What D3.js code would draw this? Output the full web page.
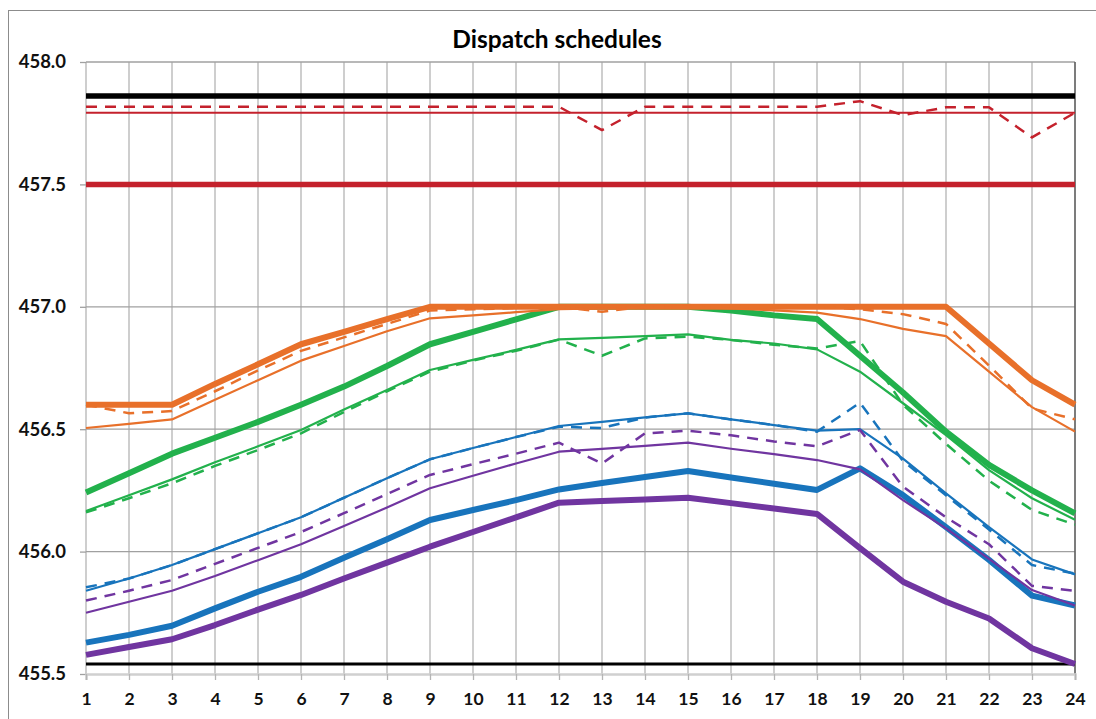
<!DOCTYPE html>
<html>
<head>
<meta charset="utf-8">
<script src="https://d3js.org/d3.v7.min.js"></script>
<style>
  body { margin: 0; background: #fff; }
  svg { display: block; font-family: Lato, "Open Sans", sans-serif; }
</style>
</head>
<body>
<div id="chart"></div>
<script>
// hours on the x axis
var hours = d3.range(1, 25);
var yTicks = [455.5, 456.0, 456.5, 457.0, 457.5, 458.0];

// constant levels
var blackTop = 457.861, blackBottom = 455.541;
var redThick = 457.5, redThin = 457.793;
var redDashed = [457.817,457.817,457.817,457.817,457.817,457.817,457.817,457.817,457.817,457.817,457.817,457.817,
                 457.722,457.817,457.817,457.817,457.817,457.817,457.84,457.783,457.815,457.815,457.692,457.793];

var orangeThick = [456.60,456.60,456.60,456.685,456.765,456.847,456.898,456.95,457.0,457.0,457.0,457.0,
                   457.0,457.0,457.0,457.0,457.0,457.0,457.0,457.0,457.0,456.85,456.70,456.60];
var orangeThin = [456.505,456.522,456.54,456.62,456.70,456.78,456.84,456.90,456.953,456.965,456.978,456.99,
                  456.993,456.997,457.0,456.993,456.985,456.976,456.95,456.91,456.88,456.735,456.59,456.49];
var orangeDashed = [456.60,456.565,456.574,456.655,456.74,456.82,456.875,456.93,456.985,456.99,456.995,457.0,
                    456.98,457.0,457.0,457.0,457.0,457.0,456.99,456.97,456.93,456.76,456.585,456.54];

var greenThick = [456.241,456.32,456.40,456.465,456.53,456.60,456.674,456.758,456.847,456.898,456.949,457.0,
                  457.0,457.0,457.0,456.985,456.965,456.95,456.80,456.65,456.49,456.354,456.25,456.156];
var greenThin = [456.166,456.23,456.295,456.365,456.43,456.497,456.58,456.66,456.742,456.783,456.824,456.867,
                 456.873,456.88,456.887,456.865,456.85,456.826,456.735,456.606,456.476,456.333,456.218,456.13];
var greenDashed = [456.16,456.218,456.279,456.35,456.415,456.483,456.57,456.655,456.735,456.78,456.82,456.866,
                   456.80,456.871,456.878,456.865,456.845,456.83,456.86,456.60,456.44,456.29,456.17,456.11];

var blueThick = [455.628,455.66,455.697,455.768,455.836,455.897,455.975,456.05,456.129,456.17,456.21,456.254,
                 456.28,456.305,456.329,456.303,456.277,456.252,456.34,456.231,456.10,455.966,455.82,455.78];
var blueThin = [455.84,455.89,455.945,456.01,456.075,456.14,456.22,456.30,456.377,456.423,456.468,456.513,
                456.53,456.548,456.565,456.54,456.517,456.494,456.50,456.38,456.238,456.10,455.968,455.907];
var blueDashed = [455.854,455.89,455.945,456.01,456.075,456.14,456.22,456.30,456.377,456.423,456.468,456.51,
                  456.505,456.548,456.565,456.54,456.517,456.49,456.608,456.37,456.23,456.09,455.945,455.91];

var purpleThick = [455.578,455.61,455.642,455.70,455.763,455.823,455.89,455.955,456.02,456.08,456.14,456.20,
                   456.207,456.213,456.22,456.198,456.176,456.154,456.014,455.877,455.795,455.727,455.605,455.541];
var purpleThin = [455.75,455.795,455.84,455.90,455.965,456.03,456.105,456.18,456.259,456.31,456.36,456.408,
                  456.42,456.432,456.445,456.42,456.398,456.374,456.336,456.21,456.095,455.97,455.843,455.78];
var purpleDashed = [455.80,455.84,455.884,455.95,456.015,456.08,456.157,456.235,456.313,456.357,456.40,456.445,
                    456.36,456.483,456.494,456.475,456.45,456.43,456.497,456.265,456.14,456.03,455.86,455.84];

var orange = "#e8702a", green = "#22b14c", blue = "#1874bc", purple = "#7035a0", red = "#c4212c";

var W = 1096, H = 719;
var margin = {top: 62, right: 21, bottom: 45, left: 86},
    width = W - margin.left - margin.right,
    height = H - margin.top - margin.bottom;

var svg = d3.select("#chart").append("svg")
    .attr("width", W)
    .attr("height", H);

// outer chart frame
svg.append("rect")
    .attr("x", 8.5).attr("y", 10.5)
    .attr("width", W).attr("height", H)
    .attr("fill", "none").attr("stroke", "#8c8c8c");

svg.append("text")
    .attr("x", 557).attr("y", 48)
    .attr("text-anchor", "middle")
    .style("font-size", "24.5px").style("font-weight", "bold")
    .text("Dispatch schedules");

var g = svg.append("g").attr("transform", "translate(" + margin.left + "," + margin.top + ")");

var x = d3.scaleLinear().domain([1, 24]).range([0, width]);
var y = d3.scaleLinear().domain([455.5, 458.0]).range([height, 0]);

// vertical gridlines
g.selectAll(".vgrid").data(hours).enter().append("line")
    .attr("x1", function(d) { return x(d); }).attr("x2", function(d) { return x(d); })
    .attr("y1", 0).attr("y2", height)
    .attr("stroke", "#b4b4b4").attr("stroke-width", 1.3);

// horizontal gridlines
g.selectAll(".hgrid").data(yTicks.slice(1)).enter().append("line")
    .attr("x1", 0).attr("x2", width)
    .attr("y1", function(d) { return y(d); }).attr("y2", function(d) { return y(d); })
    .attr("stroke", "#a0a0a0").attr("stroke-width", 1.3);

// right border
g.append("line")
    .attr("x1", width).attr("x2", width).attr("y1", 0).attr("y2", height)
    .attr("stroke", "#505050").attr("stroke-width", 1.3);

// y axis
var yAxis = g.append("g")
    .call(d3.axisLeft(y).tickValues(yTicks).tickFormat(d3.format(".1f")).tickSize(6).tickPadding(14));
yAxis.select(".domain").remove();
yAxis.selectAll("line").attr("stroke", "#a0a0a0").attr("stroke-width", 1.3);
yAxis.selectAll("text").attr("fill", "#111").style("font-size", "18.5px").style("font-weight", "bold")
    .style("font-family", "Lato, sans-serif");

// x axis
var xAxis = g.append("g").attr("transform", "translate(0," + height + ")")
    .call(d3.axisBottom(x).tickValues(hours).tickFormat(d3.format("d")).tickSize(6).tickPadding(13));
xAxis.select(".domain").attr("stroke", "#d0d0d0").attr("stroke-width", 2.5);
xAxis.selectAll("line").attr("stroke", "#b4b4b4").attr("stroke-width", 1.3);
xAxis.selectAll("text").attr("fill", "#111").style("font-size", "17.5px").style("font-weight", "bold")
    .style("font-family", "Lato, sans-serif");

var line = d3.line()
    .x(function(d, i) { return x(hours[i]); })
    .y(function(d) { return y(d); });

function level(v) { return hours.map(function() { return v; }); }

function draw(values, color, w, dashed) {
  g.append("path")
    .datum(values)
    .attr("d", line)
    .attr("fill", "none")
    .attr("stroke", color)
    .attr("stroke-width", w)
    .attr("stroke-linejoin", "round")
    .attr("stroke-dasharray", dashed ? "11,8" : null);
}

draw(level(blackTop), "#000", 5.5, false);
draw(level(blackBottom), "#000", 3, false);
draw(level(redThick), red, 5.5, false);
draw(level(redThin), red, 2, false);
draw(redDashed, red, 2.5, true);

draw(purpleThick, purple, 6, false);
draw(blueThick, blue, 6, false);
draw(greenThick, green, 6, false);
draw(orangeThick, orange, 6, false);

draw(purpleThin, purple, 2.2, false);
draw(blueThin, blue, 2.2, false);
draw(greenThin, green, 2.2, false);
draw(orangeThin, orange, 2.2, false);

draw(purpleDashed, purple, 2.5, true);
draw(blueDashed, blue, 2.5, true);
draw(greenDashed, green, 2.5, true);
draw(orangeDashed, orange, 2.5, true);
</script>
</body>
</html>
